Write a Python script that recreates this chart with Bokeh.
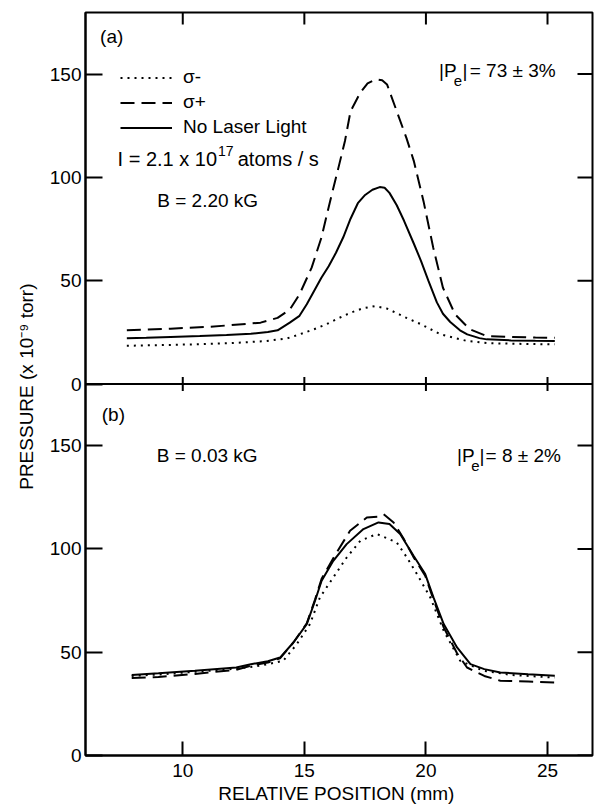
import numpy as np
from bokeh.plotting import figure
from bokeh.models import Range1d, LinearAxis, FixedTicker, Span, Label, Legend, LegendItem
from bokeh.embed import file_html
from bokeh.resources import INLINE

FONT = "Liberation Sans"

# ---------------- data ----------------
# panel (a): B = 2.20 kG
a_nolaser_x = [7.7, 8.5, 9.5, 10.7, 11.8, 12.8, 13.5, 13.9, 14.4, 14.8, 15.1, 15.4, 15.7, 16.0, 16.3, 16.6, 16.9, 17.2, 17.5, 17.8,
               18.1, 18.3, 18.5, 18.8, 19.1, 19.5, 19.8, 20.1, 20.45, 20.7, 21.0, 21.4, 21.7, 22.2, 22.5, 23.5, 24.5, 25.3]
a_nolaser_y = [22.1, 22.4, 22.8, 23.2, 23.7, 24.3, 25.2, 26.0, 29.7, 33.0, 38.6, 45.0, 51.4, 57.0, 63.5, 71.0, 80.0, 87.5, 91.5, 94.0,
               95.3, 95.0, 92.5, 86.5, 79.0, 68.0, 59.5, 50.0, 39.5, 34.0, 30.0, 26.0, 24.0, 22.2, 21.6, 21.1, 20.9, 20.8]
a_sigplus_x = [7.7, 8.5, 9.5, 10.2, 11.0, 12.0, 13.2, 13.9, 14.4, 14.8, 15.3, 15.7, 16.06, 16.4, 16.67, 16.9, 17.3, 17.6, 17.95, 18.2,
               18.4, 18.8, 19.2, 19.5, 19.9, 20.3, 20.7, 21.2, 21.8, 22.5, 23.5, 24.5, 25.3]
a_sigplus_y = [26.0, 26.3, 26.8, 27.2, 27.6, 28.5, 29.7, 32.0, 36.0, 43.4, 56.3, 70.8, 88.5, 104.6, 117.6, 132.0, 141.0, 145.5, 147.5, 147.0,
               145.0, 132.0, 119.0, 108.0, 88.5, 66.0, 46.6, 33.7, 26.5, 23.2, 22.8, 22.5, 22.4]
a_sigminus_x = [7.7, 9.0, 10.5, 12.0, 13.45, 14.3, 14.8, 15.4, 15.9, 16.4, 16.9, 17.4, 17.9, 18.4, 18.9, 19.2, 19.8, 20.6, 21.7, 22.5,
                23.5, 24.5, 25.3]
a_sigminus_y = [18.5, 18.8, 19.2, 19.8, 20.8, 22.1, 24.0, 26.5, 28.9, 31.8, 34.5, 36.6, 37.7, 36.5, 33.7, 32.0, 28.9, 24.0, 20.8, 19.8,
                19.5, 19.3, 19.2]

# panel (b): B = 0.03 kG
b_nolaser_x = [7.9, 9.0, 10.5, 12.2, 12.8, 13.5, 14.0, 14.55, 15.1, 15.44, 15.71, 16.19, 16.74, 17.43, 18.05, 18.5, 18.94, 19.49, 19.97,
               20.31, 20.73, 21.28, 21.83, 22.4, 23.06, 24.2, 25.3]
b_nolaser_y = [39.0, 39.8, 41.0, 42.6, 44.2, 45.6, 47.4, 54.7, 63.6, 74.9, 84.6, 94.2, 102.3, 109.6, 112.8, 112.0, 107.2, 96.7, 87.8,
               76.5, 63.6, 52.3, 44.2, 41.8, 40.2, 39.3, 38.6]
b_sigplus_x = [7.9, 9.0, 10.5, 12.2, 12.8, 13.5, 14.0, 14.55, 15.1, 15.44, 15.71, 16.19, 16.88, 17.57, 18.0, 18.26, 18.67, 19.08, 19.49,
               19.97, 20.31, 20.73, 21.28, 21.69, 22.4, 23.06, 24.2, 25.3]
b_sigplus_y = [37.5, 38.0, 39.5, 41.5, 43.5, 45.0, 47.0, 54.7, 64.0, 75.5, 85.5, 95.5, 108.8, 115.2, 115.5, 116.8, 112.8, 105.0, 96.0,
               87.0, 75.5, 62.0, 49.5, 42.6, 38.5, 36.2, 35.8, 35.3]
b_sigminus_x = [7.9, 9.0, 10.5, 12.2, 13.2, 14.13, 14.69, 15.23, 15.64, 16.19, 16.74, 17.3, 17.98, 18.8, 19.22, 19.63, 20.18, 20.73,
                21.41, 22.36, 23.5, 25.3]
b_sigminus_y = [38.5, 39.2, 40.5, 42.0, 43.5, 45.8, 53.9, 63.6, 76.5, 86.2, 95.8, 103.9, 107.2, 103.1, 95.8, 87.8, 76.5, 60.4,
                45.8, 41.0, 39.0, 37.7]

x_ticks = [10, 15, 20, 25]
y_ticks = [0, 50, 100, 150]

# ---------------- figure ----------------
YMAX = 179.8       # height of each panel in data units
X0, X1 = 6.0, 26.85

p = figure(frame_width=507, frame_height=743, output_backend="svg", toolbar_location=None,
           x_range=Range1d(X0, X1), y_range=Range1d(0, 2 * YMAX),
           x_axis_location=None, y_axis_location=None,
           min_border_left=85, min_border_right=3, min_border_top=12, min_border_bottom=50)
p.extra_y_ranges = {"a": Range1d(-YMAX, YMAX)}
p.grid.grid_line_color = None
p.outline_line_color = "black"
p.outline_line_width = 2
p.background_fill_color = "white"
p.border_fill_color = "white"

left_ticks = list(y_ticks) + [t + YMAX for t in y_ticks]
left_over = {t + YMAX: str(t) for t in y_ticks}


def style_axis(ax, tin):
    ax.axis_line_color = "black"
    ax.axis_line_width = 2
    ax.major_tick_line_color = "black"
    ax.major_tick_line_width = 2
    ax.major_tick_in = tin
    ax.major_tick_out = 0
    ax.minor_tick_line_color = None
    ax.major_label_text_font = FONT
    ax.major_label_text_color = "black"
    ax.major_label_text_font_size = "19px"
    ax.axis_label_text_font = FONT
    ax.axis_label_text_font_style = "normal"
    ax.axis_label_text_font_size = "19px"
    ax.axis_label_text_color = "black"


yl = LinearAxis(ticker=FixedTicker(ticks=left_ticks), major_label_overrides=left_over,
                axis_label="PRESSURE  (x 10\u207b\u2079 torr)")
style_axis(yl, 17)
yl.major_label_standoff = 4
yl.axis_label_standoff = 10
p.add_layout(yl, "left")

xb = LinearAxis(ticker=FixedTicker(ticks=x_ticks), axis_label="RELATIVE POSITION  (mm)")
style_axis(xb, 14)
xb.major_label_standoff = 8
xb.axis_label_standoff = 3
p.add_layout(xb, "below")

# inward ticks on the top and right frame edges (half of each marker is clipped by the frame)
p.scatter(x=x_ticks, y=[YMAX] * len(x_ticks), y_range_name="a", marker="dash", angle=np.pi / 2,
          size=24, line_color="black", line_width=2)
p.scatter(x=[X1] * len(left_ticks), y=left_ticks, marker="dash", size=30, line_color="black", line_width=2)

# separator between the panels, with ticks crossing it
p.add_layout(Span(location=0, dimension="width", y_range_name="a", line_color="black", line_width=2))
p.scatter(x=x_ticks, y=[0] * len(x_ticks), y_range_name="a", marker="dash", angle=np.pi / 2,
          size=14, line_color="black", line_width=2)

# curves
DOT = "2 5"
DASH = "14 7"
r_a_minus = p.line(a_sigminus_x, a_sigminus_y, y_range_name="a", line_color="black", line_width=2, line_dash=DOT)
r_a_plus = p.line(a_sigplus_x, a_sigplus_y, y_range_name="a", line_color="black", line_width=2, line_dash=DASH)
r_a_nl = p.line(a_nolaser_x, a_nolaser_y, y_range_name="a", line_color="black", line_width=2)

p.line(b_sigminus_x, b_sigminus_y, line_color="black", line_width=2, line_dash=DOT)
p.line(b_sigplus_x, b_sigplus_y, line_color="black", line_width=2, line_dash=DASH)
p.line(b_nolaser_x, b_nolaser_y, line_color="black", line_width=2)

legend = Legend(items=[LegendItem(label="\u03c3-", renderers=[r_a_minus]),
                       LegendItem(label="\u03c3+", renderers=[r_a_plus]),
                       LegendItem(label="No Laser Light", renderers=[r_a_nl])],
                location=(35, 617), orientation="vertical",
                padding=0, margin=0, spacing=3, label_height=21, glyph_height=21, glyph_width=52,
                label_standoff=11, border_line_alpha=0, background_fill_alpha=0,
                label_text_font=FONT, label_text_font_size="19px", label_text_color="black")
p.add_layout(legend)


def lab(x, y, text, rng=None, size="19px", align="left"):
    args = dict(x=x, y=y, text=text, text_font=FONT, text_font_size=size, text_color="black",
                text_baseline="middle", text_align=align)
    if rng:
        args["y_range_name"] = rng
    p.add_layout(Label(**args))


# panel (a) annotations
lab(6.60, 168.0, "(a)", "a")
lab(11.41, 109.0, "I = 2.1 x 10", "a", size="20px", align="right")
lab(11.45, 113.0, "17", "a", size="14px")
lab(12.26, 109.0, "atoms / s", "a", size="20px")
lab(8.95, 89.0, "B = 2.20 kG", "a")
lab(20.54, 151.5, "|P", "a")
lab(21.14, 146.7, "e", "a", size="15px")
lab(21.50, 151.5, "|", "a")
lab(21.80, 151.5, "= 73 \u00b1 3%", "a")

# panel (b) annotations
lab(6.67, 165.2, "(b)")
lab(8.93, 145.0, "B = 0.03 kG")
lab(21.28, 145.0, "|P")
lab(21.86, 140.2, "e", size="15px")
lab(22.20, 145.0, "|")
lab(22.45, 145.0, "= 8 \u00b1 2%")

open("out.html", "w").write(file_html(p, INLINE))
